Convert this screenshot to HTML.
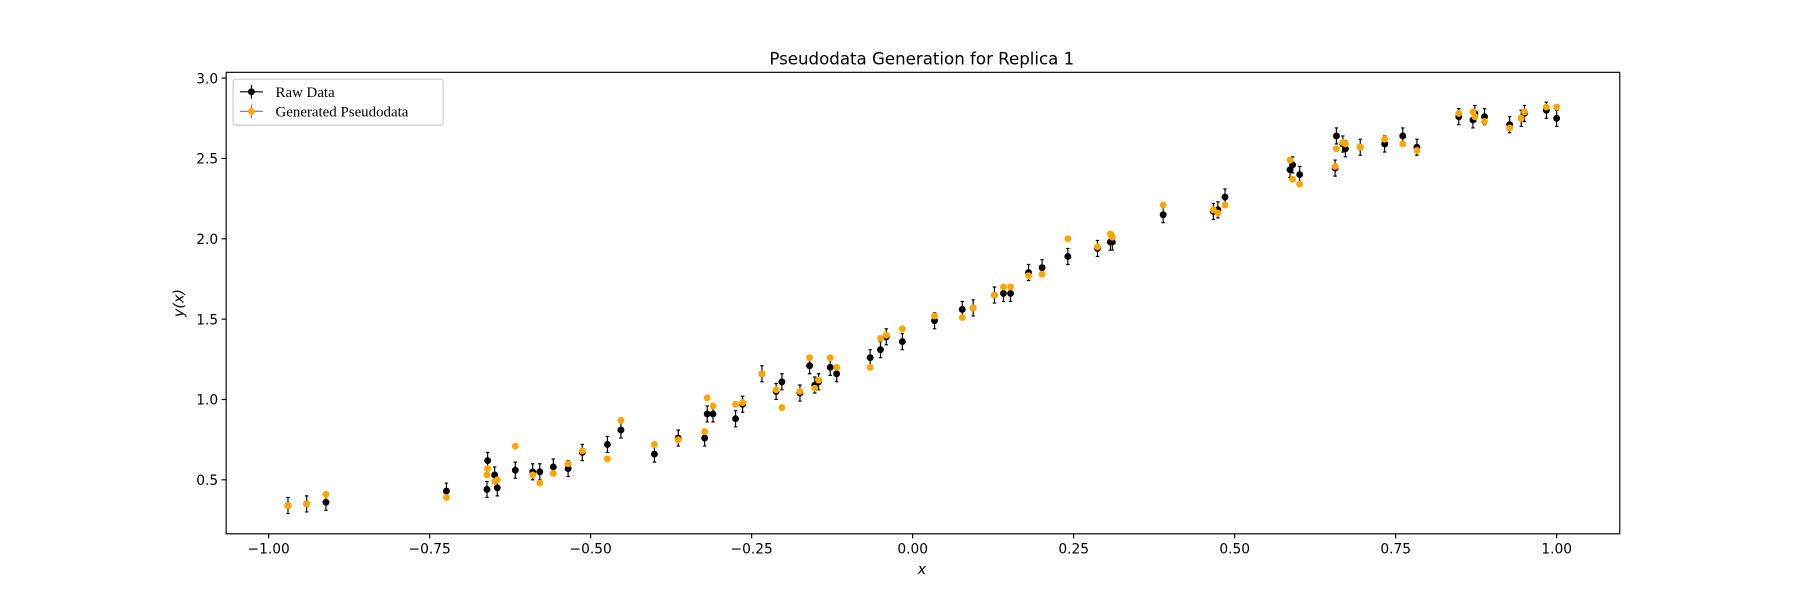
<!DOCTYPE html>
<html><head><meta charset="utf-8"><style>
html,body{margin:0;padding:0;background:#fff;}
svg{display:block;font-family:"DejaVu Sans","Liberation Sans",sans-serif;}
</style></head><body>
<svg id="chart" width="1800" height="600" viewBox="0 0 1568 522.67" xmlns="http://www.w3.org/2000/svg">
<rect x="0" y="0" width="1568" height="522.67" fill="#fff"/>
<g id="marks"></g>
<g id="axes"></g>
<rect x="197" y="63" width="1214" height="402" fill="none" stroke="#000" stroke-width="1"/>
<text x="803" y="56" text-anchor="middle" font-size="14.5">Pseudodata Generation for Replica 1</text>
<text x="803" y="500" text-anchor="middle" font-size="12.5" font-style="italic">x</text>
<text transform="translate(160,264) rotate(-90)" text-anchor="middle" font-size="12.5" font-style="italic">y(x)</text>
<g>
<rect x="203" y="69" width="183" height="40" rx="2" fill="#fff" fill-opacity="0.8" stroke="#ccc"/>
<g>
<line x1="209" y1="80" x2="229" y2="80" stroke="#000" stroke-width="1"/>
<line x1="219" y1="74" x2="219" y2="86" stroke="#000" stroke-width="1"/>
<circle cx="219" cy="80" r="3" fill="#000"/>
<text x="240" y="84.5" font-size="13" font-family="'Liberation Serif',serif">Raw Data</text>
</g>
<g>
<line x1="209" y1="97" x2="229" y2="97" stroke="#777" stroke-width="1"/>
<line x1="219" y1="91" x2="219" y2="103" stroke="#777" stroke-width="1"/>
<circle cx="219" cy="97" r="3" fill="orange"/>
<text x="240" y="101.5" font-size="13" font-family="'Liberation Serif',serif">Generated Pseudodata</text>
</g>
</g>
</svg>
<script>
const xs = [-0.970,-0.941,-0.911,-0.724,-0.661,-0.660,-0.649,-0.645,-0.617,-0.590,-0.579,-0.558,-0.535,-0.513,-0.474,-0.453,-0.401,-0.364,-0.323,-0.319,-0.310,-0.275,-0.264,-0.234,-0.212,-0.203,-0.175,-0.160,-0.152,-0.146,-0.128,-0.118,-0.066,-0.050,-0.041,-0.016,0.034,0.077,0.094,0.127,0.141,0.152,0.180,0.201,0.241,0.287,0.307,0.310,0.389,0.467,0.474,0.485,0.586,0.590,0.601,0.656,0.658,0.668,0.672,0.695,0.733,0.761,0.783,0.848,0.870,0.873,0.888,0.927,0.945,0.950,0.984,1.000];
const rawY = [0.34,0.35,0.36,0.43,0.44,0.62,0.53,0.45,0.56,0.55,0.55,0.58,0.57,0.67,0.72,0.81,0.66,0.76,0.76,0.91,0.91,0.88,0.97,1.16,1.05,1.11,1.04,1.21,1.09,1.11,1.20,1.16,1.26,1.31,1.39,1.36,1.49,1.56,1.57,1.65,1.66,1.66,1.79,1.82,1.89,1.94,1.98,1.98,2.15,2.17,2.18,2.26,2.43,2.46,2.40,2.44,2.64,2.59,2.56,2.57,2.59,2.64,2.57,2.76,2.74,2.78,2.76,2.71,2.75,2.78,2.80,2.75];
const pseudoY = [0.34,0.35,0.41,0.39,0.53,0.57,0.49,0.50,0.71,0.53,0.48,0.54,0.60,0.68,0.63,0.87,0.72,0.75,0.80,1.01,0.96,0.97,0.98,1.16,1.06,0.95,1.05,1.26,1.07,1.12,1.26,1.20,1.20,1.38,1.40,1.44,1.52,1.51,1.57,1.65,1.70,1.70,1.77,1.78,2.00,1.95,2.03,2.01,2.21,2.18,2.16,2.21,2.49,2.37,2.34,2.45,2.56,2.60,2.59,2.57,2.62,2.59,2.55,2.78,2.79,2.76,2.73,2.69,2.75,2.79,2.82,2.82];
const errBar = 0.05;
const xTicks = [-1.00,-0.75,-0.50,-0.25,0.00,0.25,0.50,0.75,1.00];
const xTickLabels = ["\u22121.00","\u22120.75","\u22120.50","\u22120.25","0.00","0.25","0.50","0.75","1.00"];
const yTicks = [0.5,1.0,1.5,2.0,2.5,3.0];
const yTickLabels = ["0.5","1.0","1.5","2.0","2.5","3.0"];

const NS="http://www.w3.org/2000/svg";
const X0=197,X1=1411,Y0=465,Y1=63;
const xMin=-1.066,xMax=1.098,yMin=0.164,yMax=3.036;
const sx=v=>X0+(v-xMin)/(xMax-xMin)*(X1-X0);
const sy=v=>Y0-(v-yMin)/(yMax-yMin)*(Y0-Y1);
function mk(tag,attrs,parent){const e=document.createElementNS(NS,tag);for(const k in attrs)e.setAttribute(k,attrs[k]);parent.appendChild(e);return e;}
const marks=document.getElementById('marks');
const axes=document.getElementById('axes');

function series(ys,color,ecolor,name){
  const g=mk('g',{},marks);
  
  
  ys.forEach((y,i)=>{
    const cx=sx(xs[i]),cy=sy(y),t=sy(y+errBar),b=sy(y-errBar);
    const eb=mk('path',{d:`M${cx},${t}V${b}M${cx-1.5},${t}H${cx+1.5}M${cx-1.5},${b}H${cx+1.5}`,stroke:ecolor,'stroke-width':1,fill:'none'},g);
    
    
    const c=mk('circle',{cx:cx,cy:cy,r:3,fill:color},g);
    
    
  });
}
series(rawY,'#000','#000','raw-data');
series(pseudoY,'orange','rgba(120,120,120,0.0)','pseudodata');

xTicks.forEach((v,i)=>{
  const x=sx(v);
  const l=mk('line',{x1:x,y1:Y0,x2:x,y2:Y0+4,stroke:'#000'},axes);
  
  
  const t=mk('text',{x:x,y:Y0+17,'text-anchor':'middle','font-size':12},axes);
  
  
  t.textContent=xTickLabels[i];
});
yTicks.forEach((v,i)=>{
  const y=sy(v);
  const l=mk('line',{x1:X0-4,y1:y,x2:X0,y2:y,stroke:'#000'},axes);
  
  
  const t=mk('text',{x:X0-7,y:y+4.5,'text-anchor':'end','font-size':12},axes);
  
  
  t.textContent=yTickLabels[i];
});
</script>
</body></html>
